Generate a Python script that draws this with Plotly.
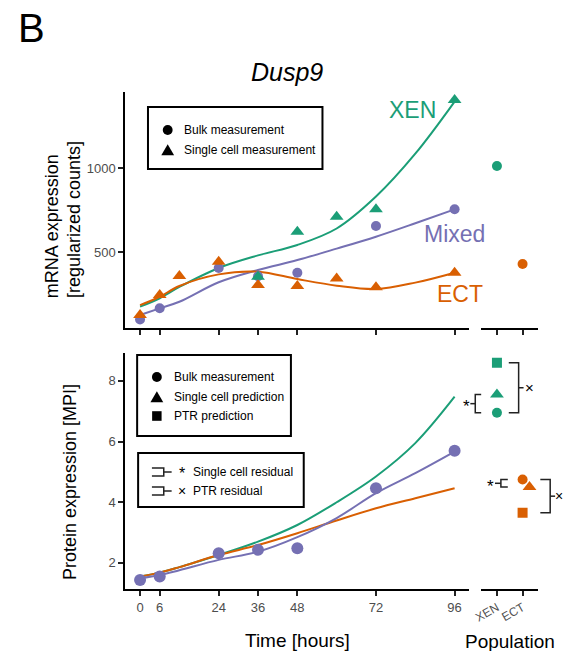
import plotly.graph_objects as go

W, H = 563, 651

# ---------------- data ----------------
GREEN, ORANGE, PURPLE = "#1b9e77", "#d95f02", "#7570b3"
time_ticks = [0, 6, 24, 36, 48, 72, 96]
populations = ["XEN", "ECT"]

# mRNA (top panel)
mix_bulk_hours = [0, 6, 24, 36, 48, 72, 96]
mix_bulk_mrna = [99, 165, 405, 356, 377, 655, 754]
ect_sc_hours = [0, 6, 12, 24, 36, 48, 60, 72, 96]
ect_sc_mrna = [125, 244, 357, 442, 304, 298, 343, 290, 377]
xen_sc_hours = [36, 48, 60, 72, 96]
xen_sc_mrna = [353, 621, 710, 754, 1405]

fit_hours = [0, 6, 12, 24, 36, 48, 60, 72, 84, 96]
xen_fit_mrna = [175, 225, 292, 405, 480, 542, 640, 830, 1085, 1395]
mix_fit_mrna = [125, 165, 204, 320, 393, 452, 520, 591, 671, 754]
ect_fit_mrna = [184, 234, 298, 367, 383, 339, 300, 280, 318, 377]

pop_bulk_mrna = [1012, 429]

# protein (bottom panel)
mix_bulk_prot = [1.44, 1.55, 2.32, 2.43, 2.48, 4.46, 5.70]
xen_fit_prot = [1.55, 1.68, 1.86, 2.26, 2.70, 3.25, 4.00, 4.85, 5.95, 7.48]
mix_fit_prot = [1.49, 1.60, 1.76, 2.10, 2.37, 2.85, 3.48, 4.30, 4.96, 5.67]
ect_fit_prot = [1.55, 1.68, 1.86, 2.26, 2.59, 2.98, 3.40, 3.80, 4.13, 4.46]

pop_bulk_prot = [6.95, 4.75]
pop_sc_prot = [7.55, 4.50]
pop_ptr_prot = [8.60, 3.65]

# ---------------- layout helpers ----------------
FONT = "Liberation Sans, Arial, sans-serif"
TICKC = "#4d4d4d"


def fx(p):
    return p / W


def fy(p):
    return 1 - p / H


TOP_Y = (92, 328)
BOT_Y = (353, 589)
TIME_X = (119, 468)
POP_X = (480, 538)
Y3_RANGE = (1.14, 8.92)


def y3px(v):
    return BOT_Y[1] - (v - Y3_RANGE[0]) / (Y3_RANGE[1] - Y3_RANGE[0]) * (BOT_Y[1] - BOT_Y[0])


fig = go.Figure()

# top panel curves
for ys, c in [(xen_fit_mrna, GREEN), (mix_fit_mrna, PURPLE), (ect_fit_mrna, ORANGE)]:
    fig.add_trace(go.Scatter(x=fit_hours, y=ys, mode="lines", line=dict(color=c, width=2, shape="spline"),
                             xaxis="x", yaxis="y", showlegend=False))
fig.add_trace(go.Scatter(x=mix_bulk_hours, y=mix_bulk_mrna, mode="markers",
                         marker=dict(color=PURPLE, size=10, symbol="circle"), xaxis="x", yaxis="y", showlegend=False))
fig.add_trace(go.Scatter(x=ect_sc_hours, y=ect_sc_mrna, mode="markers",
                         marker=dict(color=ORANGE, size=12, symbol="triangle-up"), xaxis="x", yaxis="y", showlegend=False))
fig.add_trace(go.Scatter(x=xen_sc_hours, y=xen_sc_mrna, mode="markers",
                         marker=dict(color=GREEN, size=12, symbol="triangle-up"), xaxis="x", yaxis="y", showlegend=False))
fig.add_trace(go.Scatter(x=[0, 1], y=pop_bulk_mrna, mode="markers",
                         marker=dict(color=[GREEN, ORANGE], size=10), xaxis="x2", yaxis="y", showlegend=False))

# bottom panel
for ys, c in [(xen_fit_prot, GREEN), (ect_fit_prot, ORANGE), (mix_fit_prot, PURPLE)]:
    fig.add_trace(go.Scatter(x=fit_hours, y=ys, mode="lines", line=dict(color=c, width=2, shape="spline"),
                             xaxis="x3", yaxis="y3", showlegend=False))
fig.add_trace(go.Scatter(x=mix_bulk_hours, y=mix_bulk_prot, mode="markers",
                         marker=dict(color=PURPLE, size=12), xaxis="x3", yaxis="y3", showlegend=False))
fig.add_trace(go.Scatter(x=[0, 1], y=pop_bulk_prot, mode="markers",
                         marker=dict(color=[GREEN, ORANGE], size=10), xaxis="x4", yaxis="y3", showlegend=False))
fig.add_trace(go.Scatter(x=[0, 1.27], y=pop_sc_prot, mode="markers",
                         marker=dict(color=[GREEN, ORANGE], size=12, symbol="triangle-up"), xaxis="x4", yaxis="y3",
                         showlegend=False))
fig.add_trace(go.Scatter(x=[0, 1], y=pop_ptr_prot, mode="markers",
                         marker=dict(color=[GREEN, ORANGE], size=10, symbol="square"), xaxis="x4", yaxis="y3",
                         showlegend=False))

axis_common = dict(showline=True, linecolor="black", linewidth=2, ticks="outside", ticklen=5, tickwidth=1.5,
                   tickcolor="#222", showgrid=False, zeroline=False, tickfont=dict(size=13, color=TICKC, family=FONT))

fig.update_layout(
    width=W, height=H, margin=dict(l=0, r=0, t=0, b=0), autosize=False,
    paper_bgcolor="white", plot_bgcolor="white", font=dict(family=FONT),
    xaxis=dict(domain=[fx(TIME_X[0]), fx(TIME_X[1])], range=[-4.5, 100.5], anchor="y",
               tickvals=time_ticks, showticklabels=False, **axis_common),
    yaxis=dict(domain=[fy(TOP_Y[1]), fy(TOP_Y[0])], range=[48, 1452], anchor="x",
               tickvals=[500, 1000], **axis_common),
    xaxis2=dict(domain=[fx(POP_X[0]), fx(POP_X[1])], range=[-0.615, 1.615], anchor="y",
                tickvals=[0, 1], showticklabels=False, **axis_common),
    xaxis3=dict(domain=[fx(TIME_X[0]), fx(TIME_X[1])], range=[-4.5, 100.5], anchor="y3",
                tickvals=time_ticks, **axis_common),
    yaxis3=dict(domain=[fy(BOT_Y[1]), fy(BOT_Y[0])], range=list(Y3_RANGE), anchor="x3",
                tickvals=[2, 4, 6, 8], **axis_common),
    xaxis4=dict(domain=[fx(POP_X[0]), fx(POP_X[1])], range=[-0.615, 1.615], anchor="y3",
                tickvals=[0, 1], ticktext=populations, tickangle=-30, **axis_common),
)
fig.layout.xaxis4.tickfont.size = 12

ann = []


def text(x, y, s, size, color="black", angle=0, xanchor="center"):
    ann.append(dict(x=fx(x), y=fy(y), xref="paper", yref="paper", text=s, showarrow=False, textangle=angle,
                    font=dict(size=size, color=color, family=FONT), xanchor=xanchor, yanchor="middle",
                    borderpad=0))


text(24, 28, "B", 40)
text(283, 72, "<i>Dusp9</i>", 25)
text(45, 226, "mRNA expression", 18, angle=-90)
text(67, 220, "[regularized counts]", 18, angle=-90)
text(63, 482, "Protein expression [MPI]", 18, angle=-90)
text(294, 640, "Time [hours]", 19)
text(509, 641, "Population", 19)
text(410, 110, "XEN", 23, GREEN)
text(453, 234, "Mixed", 23, PURPLE)
text(459, 294, "ECT", 23, ORANGE)

shapes = []


def rect(x0, y0, x1, y1, w=2):
    shapes.append(dict(type="rect", xref="paper", yref="paper", x0=fx(x0), x1=fx(x1), y0=fy(y1), y1=fy(y0),
                       line=dict(color="black", width=w), fillcolor="rgba(0,0,0,0)"))


def circ(cx, cy, r, color="black"):
    shapes.append(dict(type="circle", xref="paper", yref="paper", x0=fx(cx - r), x1=fx(cx + r),
                       y0=fy(cy + r), y1=fy(cy - r), line=dict(width=0), fillcolor=color))


def tri(cx, cy, s, color="black"):
    p = f"M{fx(cx - s)},{fy(cy + s * 0.8)} L{fx(cx + s)},{fy(cy + s * 0.8)} L{fx(cx)},{fy(cy - s * 0.9)} Z"
    shapes.append(dict(type="path", xref="paper", yref="paper", path=p, line=dict(width=0), fillcolor=color))


def sq(cx, cy, r, color="black"):
    shapes.append(dict(type="rect", xref="paper", yref="paper", x0=fx(cx - r), x1=fx(cx + r),
                       y0=fy(cy + r), y1=fy(cy - r), line=dict(width=0), fillcolor=color))


def poly(pts, w=1.5, color="#222"):
    p = "M" + " L".join(f"{fx(a)},{fy(b)}" for a, b in pts)
    shapes.append(dict(type="path", xref="paper", yref="paper", path=p, line=dict(color=color, width=w)))


# top legend
rect(142, 107, 319, 169)
circ(162, 130, 5)
text(178, 130, "Bulk measurement", 12, xanchor="left")
tri(162, 150, 6.5)
text(178, 150, "Single cell measurement", 12, xanchor="left")

# bottom legend 1
rect(131, 355, 287, 436)
circ(151, 377, 5)
text(167, 377, "Bulk measurement", 12, xanchor="left")
tri(151, 397, 6.5)
text(167, 397, "Single cell prediction", 12, xanchor="left")
sq(151, 416, 4.8)
text(167, 416, "PTR prediction", 12, xanchor="left")

# bottom legend 2
rect(132, 453, 300, 507)
for yy, sym, lab in [(472, "*", "Single cell residual"), (491, "×", "PTR residual")]:
    poly([(146, yy - 4), (158, yy - 4), (158, yy + 4), (146, yy + 4)])
    poly([(158, yy), (166, yy)])
    text(177, yy + (2 if sym == "*" else 0), sym, 16 if sym == "*" else 14)
    text(187, yy, lab, 12, xanchor="left")

# population residual brackets (bottom)
g_sc, g_b, g_ptr = y3px(pop_sc_prot[0]), y3px(pop_bulk_prot[0]), y3px(pop_ptr_prot[0])
poly([(480, g_sc), (474, g_sc), (474, g_b), (480, g_b)])
poly([(474, (g_sc + g_b) / 2), (469, (g_sc + g_b) / 2)])
text(465, (g_sc + g_b) / 2 + 3, "*", 17)
poly([(508, g_ptr), (518, g_ptr), (518, g_b), (508, g_b)])
poly([(518, (g_ptr + g_b) / 2), (523, (g_ptr + g_b) / 2)])
text(529, (g_ptr + g_b) / 2, "×", 15)

o_b, o_sc, o_ptr = y3px(pop_bulk_prot[1]), y3px(pop_sc_prot[1]), y3px(pop_ptr_prot[1])
poly([(507, o_b), (500, o_b), (500, o_sc), (507, o_sc)])
poly([(500, (o_b + o_sc) / 2), (494, (o_b + o_sc) / 2)])
text(489, (o_b + o_sc) / 2 + 3, "*", 17)
poly([(540, o_b), (550, o_b), (550, o_ptr), (540, o_ptr)])
poly([(550, (o_b + o_ptr) / 2), (555, (o_b + o_ptr) / 2)])
text(559, (o_b + o_ptr) / 2, "×", 14)

fig.update_layout(annotations=ann, shapes=shapes)
fig.write_html("out.html", config={"displayModeBar": False})

# remove default page margin so the figure sits at the window's top-left corner
with open("out.html", encoding="utf-8") as f:
    html = f.read()
html = html.replace("<head>", "<head><style>html,body{margin:0;padding:0;overflow:hidden;}</style>", 1)
with open("out.html", "w", encoding="utf-8") as f:
    f.write(html)
